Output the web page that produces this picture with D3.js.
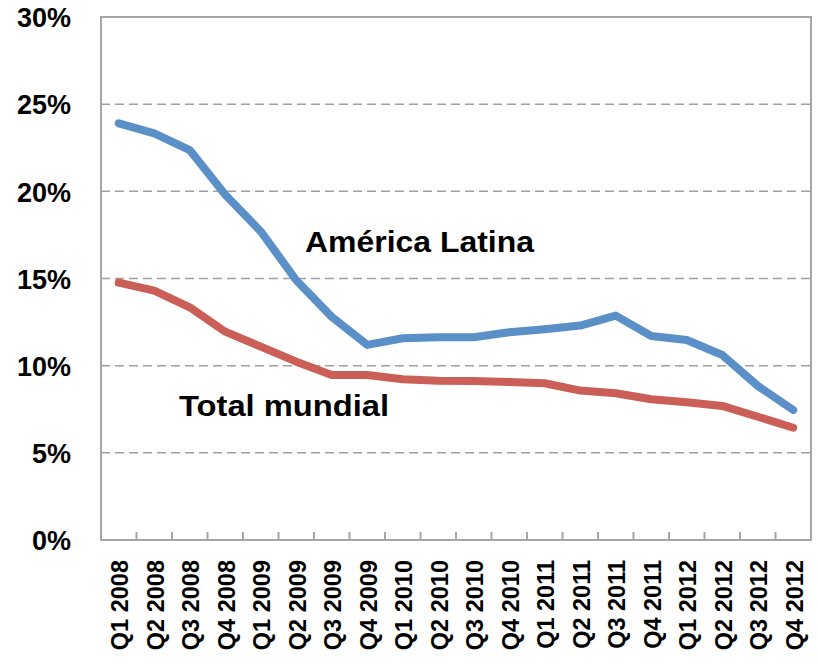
<!DOCTYPE html>
<html><head><meta charset="utf-8">
<script src="https://cdn.jsdelivr.net/npm/d3@7"></script>
<style>body{margin:0;background:#fff}svg{display:block}text{font-family:"Liberation Sans",Arial,sans-serif;font-weight:bold;fill:#000}</style>
</head><body><svg id="c" width="818" height="664"></svg>
<script>
const categories = ["Q1 2008","Q2 2008","Q3 2008","Q4 2008","Q1 2009","Q2 2009","Q3 2009","Q4 2009","Q1 2010","Q2 2010","Q3 2010","Q4 2010","Q1 2011","Q2 2011","Q3 2011","Q4 2011","Q1 2012","Q2 2012","Q3 2012","Q4 2012"];
const americaLatina = [23.9,23.33,22.37,19.8,17.7,14.9,12.8,11.19,11.57,11.63,11.63,11.92,12.09,12.3,12.87,11.7,11.47,10.61,8.84,7.46];
const totalMundial = [14.76,14.3,13.35,11.95,11.09,10.23,9.47,9.47,9.22,9.14,9.12,9.06,8.99,8.57,8.42,8.07,7.9,7.69,7.07,6.44];
const yTicks = [0,5,10,15,20,25,30];
const seriesNames = ["América Latina","Total mundial"];

const svg = d3.select("#c");
const L=101, R=811, T=17, B=540;
const x = d3.scaleBand().domain(categories).range([L,R]);
const y = d3.scaleLinear().domain([0,30]).range([B,T]);

// gridlines
svg.append("g").selectAll("line").data(yTicks.filter(v=>v>0&&v<30)).join("line")
  .attr("x1",L).attr("x2",R).attr("y1",d=>y(d)).attr("y2",d=>y(d))
  .attr("stroke","#A0A0A0").attr("stroke-width",1.5).attr("stroke-dasharray","9,5");

// border
svg.append("rect").attr("x",L).attr("y",T).attr("width",R-L).attr("height",B-T)
  .attr("fill","none").attr("stroke","#A6A6A6").attr("stroke-width",2);

// x ticks (inward at category boundaries)
svg.append("g").selectAll("line").data(categories.slice(1)).join("line")
  .attr("x1",d=>x(d)).attr("x2",d=>x(d)).attr("y1",B-8).attr("y2",B)
  .attr("stroke","#A6A6A6").attr("stroke-width",2);

// y labels
const yAxis = d3.axisLeft(y).tickValues(yTicks).tickFormat(d=>d+"%").tickSize(0).tickPadding(30);
const gy = svg.append("g").attr("transform",`translate(${L},0)`).call(yAxis);
gy.select(".domain").remove();
gy.selectAll("text").style("font-size","27px").style("font-family","Liberation Sans, Arial, sans-serif").style("font-weight","bold").attr("fill","#000").attr("dy","0.36em");

// x labels
const xAxis = d3.axisBottom(x).tickSize(0);
const gx = svg.append("g").attr("transform",`translate(0,${B})`).call(xAxis);
gx.select(".domain").remove();
gx.selectAll("text").style("font-size","23.5px").style("font-family","Liberation Sans, Arial, sans-serif").style("font-weight","bold").attr("fill","#000")
  .attr("text-anchor","end").attr("transform","rotate(-90)").attr("x",-20).attr("y",0).attr("dy","0.4em");

// lines
const line = d3.line().x((d,i)=>x(categories[i])+x.bandwidth()/2).y(d=>y(d));
svg.append("path").datum(americaLatina).attr("d",line).attr("fill","none")
  .attr("stroke","#5A8FC8").attr("stroke-width",8).attr("stroke-linecap","round").attr("stroke-linejoin","round");
svg.append("path").datum(totalMundial).attr("d",line).attr("fill","none")
  .attr("stroke","#CB5F58").attr("stroke-width",8).attr("stroke-linecap","round").attr("stroke-linejoin","round");

// series labels
svg.append("text").attr("x",305).attr("y",252).style("font-size","29px")
  .attr("textLength",229).attr("lengthAdjust","spacingAndGlyphs").text(seriesNames[0]);
svg.append("text").attr("x",179).attr("y",416).style("font-size","29px")
  .attr("textLength",210).attr("lengthAdjust","spacingAndGlyphs").text(seriesNames[1]);
</script></body></html>
